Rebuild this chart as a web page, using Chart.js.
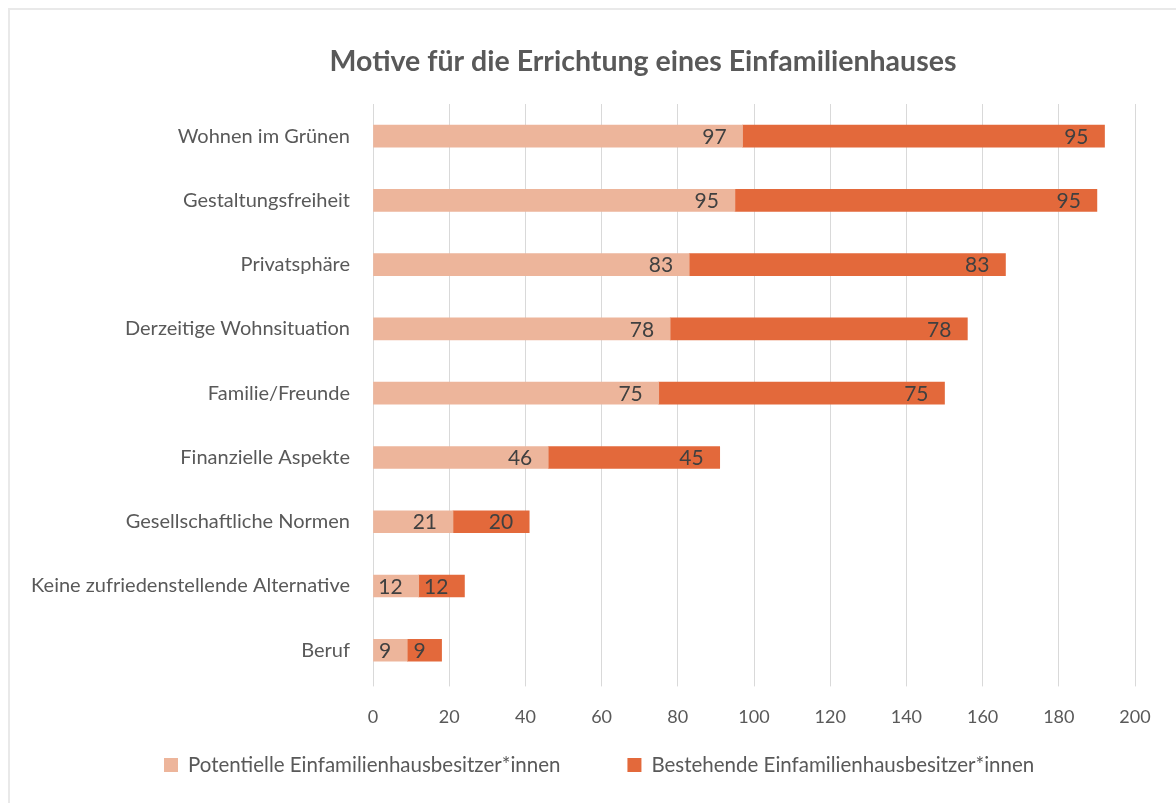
<!DOCTYPE html>
<html lang="de">
<head>
<meta charset="utf-8">
<title>Motive für die Errichtung eines Einfamilienhauses</title>
<script src="https://cdn.jsdelivr.net/npm/chart.js@4.4.1/dist/chart.umd.min.js"></script>
<style>
  html, body { margin: 0; padding: 0; background: #ffffff; }
  #wrap { position: relative; width: 1176px; height: 803px; overflow: hidden; }
  #frame { position: absolute; left: 8px; top: 8px; width: 1190px; height: 820px;
           border-left: 2px solid #e9e9e9; border-top: 2px solid #e9e9e9; box-sizing: border-box; }
  canvas { position: absolute; left: 0; top: 0; }
</style>
</head>
<body>
<div id="wrap">
  <div id="frame"></div>
  <canvas id="chart" width="1176" height="803"></canvas>
</div>
<script>
// Motive, top to bottom
const categories = [
  'Wohnen im Grünen',
  'Gestaltungsfreiheit',
  'Privatsphäre',
  'Derzeitige Wohnsituation',
  'Familie/Freunde',
  'Finanzielle Aspekte',
  'Gesellschaftliche Normen',
  'Keine zufriedenstellende Alternative',
  'Beruf'
];
const potentielle = [97, 95, 83, 78, 75, 46, 21, 12, 9];
const bestehende  = [95, 95, 83, 78, 75, 45, 20, 12, 9];
const seriesNames = ['Potentielle Einfamilienhausbesitzer*innen', 'Bestehende Einfamilienhausbesitzer*innen'];
const xTicks = [0, 20, 40, 60, 80, 100, 120, 140, 160, 180, 200];
const titleText = 'Motive für die Errichtung eines Einfamilienhauses';

const FONT = 'Lato, "Open Sans", sans-serif';
const LIGHT = '#EDB59B';
const DARK = '#E3693B';
const TEXT = '#595959';

// Title drawn centred above the plot
const titlePlugin = {
  id: 'titleText',
  afterDraw(chart) {
    const ctx = chart.ctx;
    ctx.save();
    ctx.font = 'bold 28.5px ' + FONT;
    ctx.fillStyle = TEXT;
    ctx.textAlign = 'center';
    ctx.textBaseline = 'middle';
    ctx.fillText(titleText, 643, 62);
    ctx.restore();
  }
};

// Value labels at the inner end of every bar segment
const valueLabels = {
  id: 'valueLabels',
  afterDatasetsDraw(chart) {
    const ctx = chart.ctx;
    ctx.save();
    ctx.font = '21px ' + FONT;
    ctx.fillStyle = '#404040';
    ctx.textAlign = 'right';
    ctx.textBaseline = 'middle';
    chart.data.datasets.forEach((ds, i) => {
      const meta = chart.getDatasetMeta(i);
      meta.data.forEach((bar, j) => {
        ctx.fillText(String(ds.data[j]), bar.x - 16, bar.y + 1);
      });
    });
    ctx.restore();
  }
};

// Legend row under the axis: square swatch + series name
const legendRow = {
  id: 'legendRow',
  afterDraw(chart) {
    const ctx = chart.ctx;
    ctx.save();
    ctx.font = '20.5px ' + FONT;
    ctx.textBaseline = 'middle';
    ctx.textAlign = 'left';
    const y = 765;
    let x = 164;
    chart.data.datasets.forEach((ds) => {
      ctx.fillStyle = ds.backgroundColor;
      ctx.fillRect(x, y - 7, 14, 14);
      ctx.fillStyle = TEXT;
      ctx.fillText(ds.label, x + 24, y);
      x += 24 + ctx.measureText(ds.label).width + 67;
    });
    ctx.restore();
  }
};

new Chart(document.getElementById('chart'), {
  type: 'bar',
  data: {
    labels: categories,
    datasets: [
      { label: seriesNames[0], data: potentielle, backgroundColor: LIGHT, barThickness: 22 },
      { label: seriesNames[1], data: bestehende, backgroundColor: DARK, barThickness: 22 }
    ]
  },
  options: {
    indexAxis: 'y',
    responsive: false,
    animation: false,
    layout: { padding: { top: 104, right: 41, bottom: 55, left: 0 } },
    scales: {
      x: {
        stacked: true,
        min: 0,
        max: 200,
        afterBuildTicks(scale) { scale.ticks = xTicks.map(v => ({ value: v })); },
        grid: { color: '#d9d9d9', lineWidth: 1, tickLength: 4, drawTicks: true },
        border: { display: false },
        ticks: { color: TEXT, font: { family: FONT, size: 18 }, padding: 20 }
      },
      y: {
        stacked: true,
        afterFit(scale) { scale.width = 373; },
        grid: { display: false, drawTicks: false },
        border: { display: false },
        ticks: { color: TEXT, font: { family: FONT, size: 20 }, padding: 23 }
      }
    },
    plugins: {
      title: { display: false },
      tooltip: { enabled: false },
      legend: { display: false }
    }
  },
  plugins: [titlePlugin, valueLabels, legendRow]
});
</script>
</body>
</html>
